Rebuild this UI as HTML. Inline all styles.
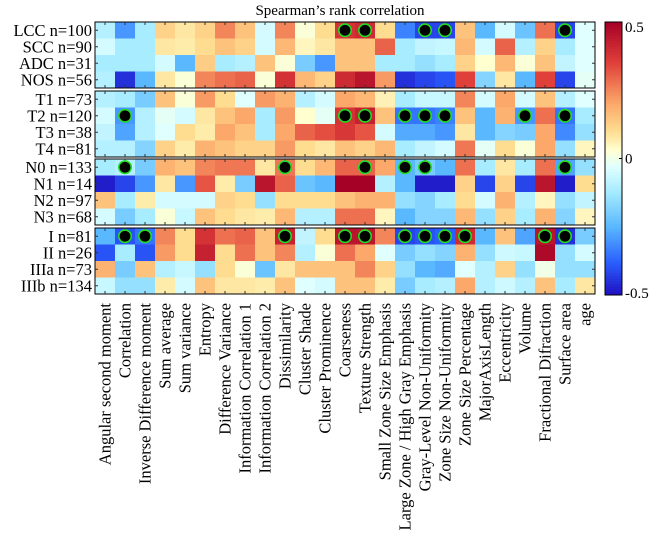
<!DOCTYPE html>
<html><head><meta charset="utf-8"><style>
body{margin:0;background:#fff;}
svg{display:block;font-family:"Liberation Serif",serif;}
</style></head><body>
<svg id="chart" width="650" height="550" viewBox="0 0 650 550">
<text x="340" y="15" text-anchor="middle" font-size="15">Spearman’s rank correlation</text>
<g id="cells"></g><g id="frames"></g><g id="dots"></g><g id="labels"></g><g id="cbar"></g>
</svg>
<script>
const features=["Angular second moment","Correlation","Inverse Difference moment","Sum average","Sum variance","Entropy","Difference Variance","Information Correlation 1","Information Correlation 2","Dissimilarity","Cluster Shade","Cluster Prominence","Coarseness","Texture Strength","Small Zone Size Emphasis","Large Zone / High Gray Emphasis","Gray-Level Non-Uniformity","Zone Size Non-Uniformity","Zone Size Percentage","MajorAxisLength","Eccentricity","Volume","Fractional Difraction","Surface area","age"];
const groups=[["LCC n=100","SCC n=90","ADC n=31","NOS n=56"],["T1 n=73","T2 n=120","T3 n=38","T4 n=81"],["N0 n=133","N1 n=14","N2 n=97","N3 n=68"],["I n=81","II n=26","IIIa n=73","IIIb n=134"]];
const values=[
[-0.1,-0.3,-0.12,0.12,0.08,0.12,0.25,0.15,-0.05,0.25,0.02,0.1,0.38,0.4,0.1,-0.33,-0.42,-0.42,0.15,-0.25,-0.05,-0.22,0.28,-0.42,-0.03],
[-0.05,-0.12,-0.12,0.08,0.07,0.1,0.15,0.12,-0.05,0.17,0.05,0.08,0.15,0.15,0.3,-0.12,-0.08,-0.07,0.17,-0.05,0.3,-0.1,0.12,-0.12,-0.03],
[-0.12,-0.12,-0.12,-0.05,-0.25,0.13,-0.12,-0.1,0.15,0.02,-0.2,-0.3,0.15,0.15,-0.12,-0.12,-0.15,-0.12,0.12,0.03,0.17,0.02,0.15,-0.08,-0.03],
[-0.1,-0.45,-0.25,0.08,0.02,0.25,0.28,0.3,0.02,0.38,0.17,0.12,0.4,0.45,0.22,-0.45,-0.42,-0.4,0.35,-0.18,0.08,-0.25,0.35,-0.42,-0.02],
[-0.1,-0.12,-0.2,0.15,0.02,0.22,0.1,-0.03,0.22,0.18,-0.1,-0.05,0.2,0.17,0.06,-0.12,-0.07,-0.07,0.25,-0.05,0.2,-0.05,0.15,-0.1,-0.03],
[-0.05,-0.3,-0.1,-0.02,-0.05,0.08,0.15,0.2,-0.12,0.22,0.03,-0.02,0.38,0.42,0.15,-0.35,-0.35,-0.33,0.15,-0.25,0.18,-0.3,0.28,-0.35,-0.12],
[-0.08,-0.28,-0.1,-0.03,0.1,0.07,0.2,0.15,-0.12,0.2,0.3,0.33,0.37,0.32,-0.05,-0.27,-0.27,-0.3,0.08,-0.25,-0.18,-0.2,0.2,-0.32,-0.15],
[-0.1,-0.1,-0.18,0.12,0.07,0.18,0.15,0.12,0.12,0.22,0.1,0.08,0.15,0.12,0.17,-0.12,-0.08,-0.05,0.27,-0.02,0.1,0.02,0.2,-0.15,0.05],
[-0.12,-0.1,-0.2,0.18,0.15,0.25,0.27,0.27,0.08,0.27,0.1,0.17,0.3,0.3,0.2,-0.25,-0.2,-0.25,0.28,-0.12,0.08,-0.12,0.28,-0.28,-0.15],
[-0.48,-0.42,-0.3,0.08,-0.3,0.32,0.07,-0.2,0.45,0.3,-0.22,-0.25,0.5,0.5,-0.1,-0.25,-0.48,-0.48,0.12,-0.42,0.12,-0.42,0.45,-0.48,0.1],
[0.15,-0.12,0.07,-0.05,-0.05,-0.05,0.12,0.1,-0.15,0.1,0.1,0.1,0.15,0.18,0.18,-0.15,-0.18,-0.12,0.1,-0.05,0.18,-0.1,0.05,-0.15,-0.08],
[-0.05,-0.2,-0.12,0.02,-0.07,0.15,0.1,0.08,0.07,0.17,-0.1,-0.1,0.28,0.28,0.05,-0.25,-0.18,-0.18,0.17,-0.15,0.12,-0.12,0.18,-0.18,0.05],
[-0.25,-0.4,-0.35,0.25,0.1,0.38,0.28,0.3,0.15,0.42,-0.08,0.1,0.45,0.45,0.25,-0.42,-0.4,-0.38,0.4,-0.25,0.15,-0.28,0.45,-0.45,-0.2],
[-0.4,-0.12,-0.4,0.22,0.1,0.42,0.1,0.28,0.15,0.25,-0.1,0.02,0.28,0.2,-0.03,-0.2,-0.15,-0.18,0.18,-0.15,-0.06,-0.07,0.48,-0.15,-0.05],
[0.18,-0.2,0.15,-0.1,-0.07,-0.15,0.1,0.02,-0.22,0.08,0.15,0.15,0.15,0.25,0.12,-0.15,-0.25,-0.27,-0.03,-0.1,0.12,-0.15,0.0,-0.15,-0.15],
[-0.07,-0.15,-0.15,0.07,-0.05,0.15,0.08,0.08,0.07,0.15,-0.03,-0.05,0.15,0.15,0.07,-0.2,-0.12,-0.1,0.2,-0.1,-0.06,-0.1,0.15,-0.12,0.08]];
const sigRows=[0,0,0,0,0,5,5,5,5,5,5,5,5,8,8,8,8,8,8,12,12,12,12,12,12,12,12,12,12,12];
const sigCols=[12,13,16,17,23,1,12,13,15,16,17,21,23,1,9,13,15,16,23,1,2,9,12,13,15,16,17,18,22,23];
const cbTicks=[0.5,0,-0.5];
const cbLabels=["0.5","0","-0.5"];

const NS="http://www.w3.org/2000/svg";
const X0=95,CW=20,GT=[22,91,159,228],GH=66,RH=GH/4;
const xS=c=>X0+c*CW;
const yS=r=>GT[Math.floor(r/4)]+(r%4)*RH;
const stops=[[-0.5,[32,16,192]],[-0.38,[42,96,255]],[-0.25,[90,184,255]],[-0.12,[168,236,255]],[-0.03,[224,255,255]],[0.03,[255,255,208]],[0.1,[254,221,144]],[0.2,[252,168,106]],[0.35,[224,64,58]],[0.5,[165,0,38]]];
function col(v){v=Math.max(-0.5,Math.min(0.5,v));for(let i=1;i<stops.length;i++){if(v<=stops[i][0]){const a=stops[i-1],b=stops[i],t=(v-a[0])/(b[0]-a[0]);return "rgb("+a[1].map((c,k)=>Math.round(c+(b[1][k]-c)*t)).join(",")+")";}}return "rgb(165,0,38)";}
function mk(t,at,p){const e=document.createElementNS(NS,t);for(const k in at)e.setAttribute(k,at[k]);p.appendChild(e);return e;}
const gC=document.getElementById('cells'),gF=document.getElementById('frames'),gD=document.getElementById('dots'),gL=document.getElementById('labels'),gB=document.getElementById('cbar');
values.forEach((row,r)=>row.forEach((v,c)=>{
 const e=mk('rect',{x:xS(c),y:yS(r),width:CW+0.5,height:RH+0.5,fill:col(v)},gC);
 
 
}));
GT.forEach((t,g)=>{
 const f=mk('rect',{x:X0,y:t,width:25*CW,height:GH,fill:'none',stroke:'#000','stroke-width':1},gF);
 
 
 for(let c=0;c<25;c++){const x=xS(c)+CW/2;
  mk('line',{x1:x,y1:t,x2:x,y2:t+3,stroke:'#333'},gF);
  mk('line',{x1:x,y1:t+GH,x2:x,y2:t+GH-3,stroke:'#333'},gF);}
 for(let i=0;i<4;i++){const y=t+(i+0.5)*RH;
  mk('line',{x1:X0,y1:y,x2:X0+3,y2:y,stroke:'#333'},gF);
  mk('line',{x1:X0+500,y1:y,x2:X0+497,y2:y,stroke:'#333'},gF);
  const tx=mk('text',{x:92,y:y+5.5,'text-anchor':'end','font-size':16.5},gL);tx.textContent=groups[g][i];
  
  }
});
sigRows.forEach((r,i)=>{
 const d=mk('circle',{cx:xS(sigCols[i])+CW/2,cy:yS(r)+RH/2,r:6.2,fill:'#000',stroke:'#22dd22','stroke-width':1.6},gD);
 
 
});
features.forEach((f,c)=>{
 const x=xS(c)+CW/2+5.5;
 const t=mk('text',{x:x,y:303,'text-anchor':'end','font-size':16.5,transform:'rotate(-90 '+x+' 303)'},gL);t.textContent=f;
 
 
});
const CB0=22,CB1=295,CBX=605,CBW=17;
const cbY=v=>CB0+(0.5-v)*(CB1-CB0);
for(let i=0;i<100;i++){const v=0.5-(i+0.5)/100;
 mk('rect',{x:CBX,y:CB0+i*(CB1-CB0)/100,width:CBW,height:(CB1-CB0)/100+0.5,fill:col(v)},gB);}
const fr=mk('rect',{x:CBX,y:CB0,width:CBW,height:CB1-CB0,fill:'none',stroke:'#000'},gB);


cbTicks.forEach((v,i)=>{
 const y=cbY(v);
 mk('line',{x1:CBX+CBW-3,y1:y,x2:CBX+CBW,y2:y,stroke:'#000'},gB);
 const t=mk('text',{x:CBX+CBW+3,y:Math.min(Math.max(y+5,CB0+10),CB1+3),'font-size':15},gB);t.textContent=cbLabels[i];
 
 
});
</script>
</body></html>
